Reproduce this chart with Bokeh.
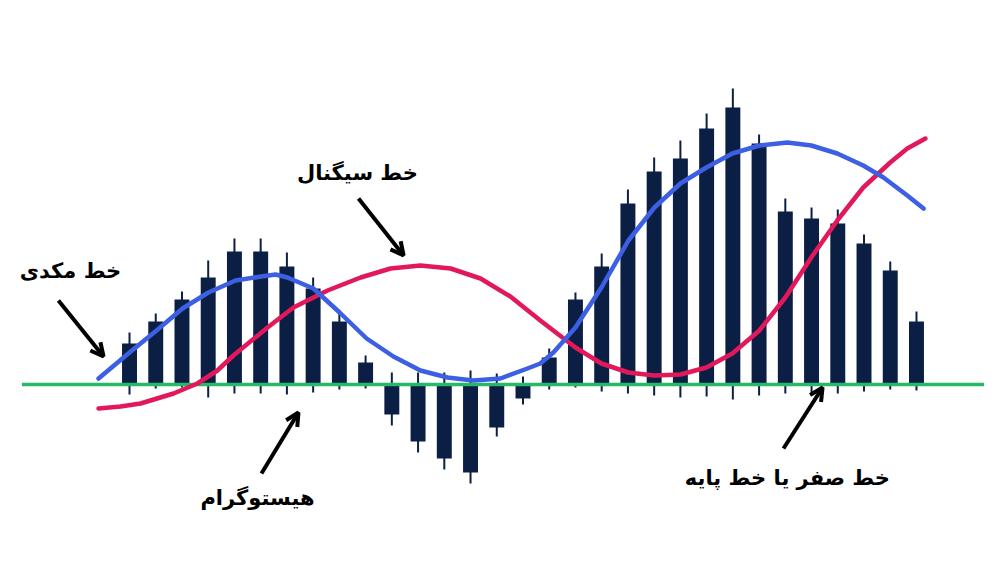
from bokeh.plotting import figure
from bokeh.models import Range1d, Arrow, OpenHead
from bokeh.core.properties import value
from bokeh.embed import file_html
from bokeh.resources import INLINE

# ---- data (histogram bars, index 0..30) ----
bar_index = list(range(31))
hist = [41, 63, 85, 107, 133, 133, 118, 96, 63, 22,
        -30, -57, -74, -88, -43, -14,
        27, 85, 118, 181, 213, 226, 256, 277, 241, 173, 166, 161, 141, 114, 63]
wick_high = [52, 71, 93, 124, 146, 146, 132, 107, 71, 29,
             12, 12, 12, 14, 11, 8,
             36, 92, 131, 195, 227, 244, 271, 296, 250, 186, 177, 175, 150, 123, 73]
wick_low = [-10, -4, -3, -13, -9, -9, -10, -8, -5, -4,
            -41, -68, -85, -99, -52, -20,
            -5, -3, -7, -9, -11, -13, -12, -15, -11, -9, -8, -9, -7, -5, -6]

# MACD line (blue)
macd_x = [-1.18, 0.0, 1.03, 2.02, 3.01, 4.04, 5.03, 5.57, 6.02, 7.01, 8.01, 9.04,
          10.06, 11.09, 12.12, 13.11, 14.14, 15.17, 15.66, 16.16, 17.0, 17.99, 19.02,
          20.01, 21.0, 21.99, 22.98, 24.01, 25.08, 25.99, 26.98, 27.97, 28.74, 29.65, 30.27]
macd_y = [6, 32, 54, 76, 92, 104, 108, 110, 107, 96, 72, 46,
          28, 14, 7, 4, 6, 16, 21, 32, 57, 97, 144,
          177, 201, 217, 231, 239, 242, 239, 231, 219, 207, 189, 176]

# Signal line (red)
signal_x = [-1.18, -0.34, 0.42, 1.68, 2.59, 3.35, 3.96, 5.26, 6.25, 7.55, 8.81, 9.95,
            11.09, 12.24, 13.38, 14.52, 15.66, 17.0, 17.99, 19.02, 20.01, 21.0, 21.99,
            22.98, 24.01, 25.0, 25.99, 26.98, 27.97, 29.0, 29.65, 30.34]
signal_y = [-24, -22, -19, -9, 1, 14, 29, 57, 77, 94, 107, 116,
            119, 116, 106, 88, 64, 37, 21, 12, 9, 10, 17,
            31, 54, 87, 127, 164, 197, 222, 236, 246]

zero_x = [-4.1, 32.6]

# ---- annotations ----
label_text = ["خط مکدی", "خط سیگنال", "هیستوگرام", "خط صفر یا خط پایه"]
label_x = [-2.25, 8.69, 4.88, 25.08]
label_y = [114, 212, -113, -93]
arrow_x0 = [-2.71, 8.73, 5.03, 24.93]
arrow_y0 = [84, 186, -89, -64]
arrow_x1 = [-0.99, 10.45, 6.44, 26.42]
arrow_y1 = [28, 129, -28, -3]

BAR = "#0b1f45"
BLUE = "#3d5fe3"
RED = "#e2185a"
GREEN = "#27b868"

p = figure(width=984, height=546, output_backend="svg", toolbar_location=None,
           x_range=Range1d(-4.918, 32.593), y_range=Range1d(-162, 384),
           x_axis_location=None, y_axis_location=None, min_border=0)
p.grid.visible = False
p.outline_line_color = None
p.background_fill_color = "white"

# wicks
p.segment(x0=bar_index, y0=wick_low, x1=bar_index, y1=wick_high,
          line_color=BAR, line_width=2)
# bars
p.vbar(x=bar_index, top=hist, bottom=0, width=0.57, fill_color=BAR, line_color=None)

# zero line
p.line(zero_x, [0, 0], line_color=GREEN, line_width=3.5)

# lines
p.line(signal_x, signal_y, line_color=RED, line_width=4.5, line_cap="round", line_join="round")
p.line(macd_x, macd_y, line_color=BLUE, line_width=4.5, line_cap="round", line_join="round")

# arrows
for i in range(4):
    p.add_layout(Arrow(x_start=arrow_x0[i], y_start=arrow_y0[i],
                       x_end=arrow_x1[i], y_end=arrow_y1[i],
                       line_color="black", line_width=4,
                       end=OpenHead(size=13, line_width=4, line_color="black")))

# labels
p.text(x=label_x, y=label_y, text=label_text, text_align="center", text_baseline="middle",
       text_font=value("DejaVu Sans"), text_font_style="bold", text_font_size="21px",
       text_color="black")

open("out.html", "w").write(file_html(p, INLINE))
